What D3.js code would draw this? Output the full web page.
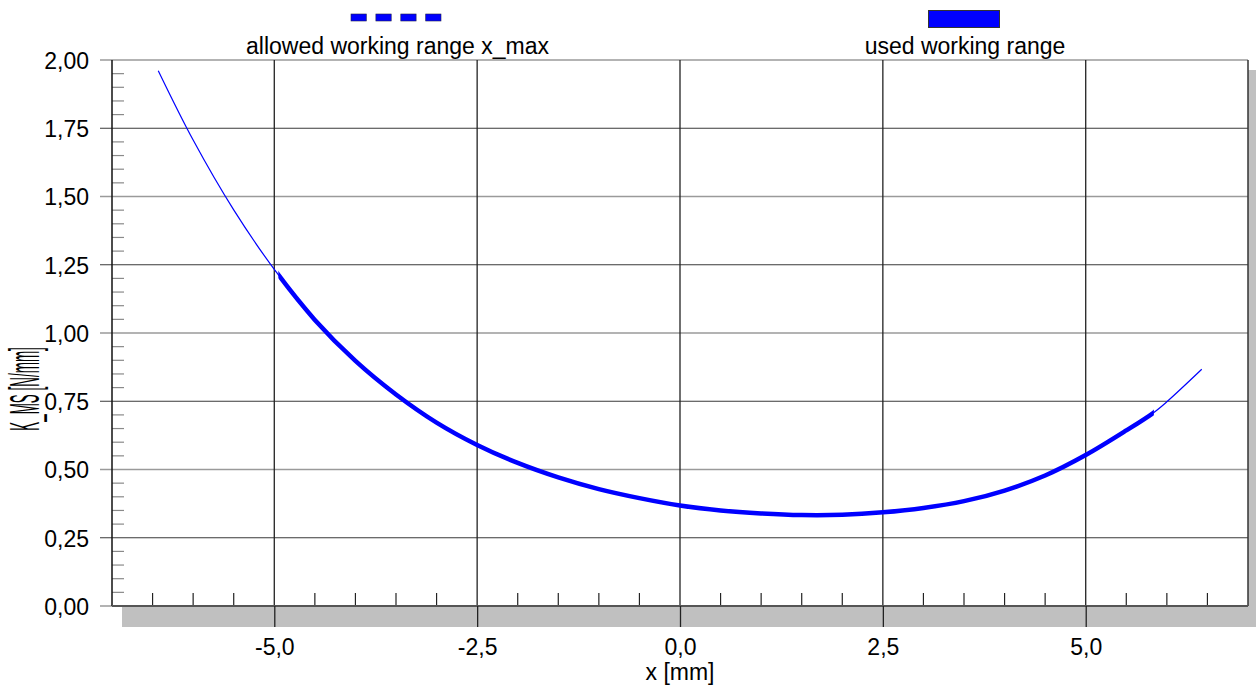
<!DOCTYPE html>
<html>
<head>
<meta charset="utf-8">
<script src="https://cdn.jsdelivr.net/npm/d3@7"></script>
<style>
  html, body { margin: 0; padding: 0; background: #fff; }
  svg { display: block; font-family: "Liberation Sans", Arial, sans-serif; }
</style>
</head>
<body>
<svg id="chart" width="1256" height="687"></svg>
<script>
// Spring stiffness K_MS over deflection x
const xValues = [-6.43, -6.0, -5.5, -5.0, -4.5, -4.0, -3.5, -3.0, -2.5, -2.0, -1.5, -1.0, -0.5, 0.0,
                 0.5, 1.0, 1.5, 2.0, 2.5, 3.0, 3.5, 4.0, 4.5, 5.0, 5.5, 5.84, 6.0, 6.43];
const kValues = [1.961, 1.707, 1.451, 1.233, 1.048, 0.898, 0.775, 0.672, 0.590, 0.524, 0.471, 0.428, 0.395, 0.368,
                 0.350, 0.339, 0.333, 0.334, 0.343, 0.359, 0.384, 0.423, 0.478, 0.553, 0.643, 0.709, 0.748, 0.867];

// Portion of the characteristic actually used
const usedRange = [-4.95, 5.84];

// Axis ticks and labels
const xMajorTicks = [-5, -2.5, 0, 2.5, 5];
const xTickLabels = ["-5,0", "-2,5", "0,0", "2,5", "5,0"];
const xMinorTicks = [-6.5, -6, -5.5, -4.5, -4, -3.5, -3, -2, -1.5, -1, -0.5,
                     0.5, 1, 1.5, 2, 3, 3.5, 4, 4.5, 5.5, 6, 6.5];
const yMajorTicks = [0, 0.25, 0.5, 0.75, 1.0, 1.25, 1.5, 1.75, 2.0];
const yTickLabels = ["0,00", "0,25", "0,50", "0,75", "1,00", "1,25", "1,50", "1,75", "2,00"];
const yMinorTicks = d3.range(0, 40).map(i => i * 0.05).filter(v => Math.round(v * 100) % 25 !== 0);

const legendLabels = ["allowed working range x_max", "used working range"];
const xTitle = "x [mm]";
const yTitle = "K_MS [N/mm]";

(function draw() {
  const svg = d3.select("#chart");
  const W = 1256, H = 687;
  const pL = 112, pR = 1248, pT = 60, pB = 606;

  const x = d3.scaleLinear().domain([-7, 7]).range([pL, pR]);
  const y = d3.scaleLinear().domain([0, 2]).range([pB, pT]);

  svg.append("rect").attr("width", W).attr("height", H).attr("fill", "#fff");

  // drop shadow behind the plot area
  svg.append("rect")
    .attr("x", pL + 10).attr("y", pT + 10)
    .attr("width", W - pL - 8).attr("height", pB - pT + 11)
    .attr("fill", "#c0c0c0");
  svg.append("rect")
    .attr("x", pL).attr("y", pT)
    .attr("width", pR - pL).attr("height", pB - pT)
    .attr("fill", "#fff");

  // horizontal grid: half steps lighter, quarter steps darker
  svg.append("g").selectAll("line").data(yMajorTicks).join("line")
    .attr("x1", pL - 12).attr("x2", pR)
    .attr("y1", d => y(d)).attr("y2", d => y(d))
    .attr("stroke", d => (Math.round(d * 4) % 2 === 0) ? "#9a9a9a" : "#3a3a3a")
    .attr("stroke-width", d => (Math.round(d * 4) % 2 === 0) ? 1.6 : 1.1);

  // vertical grid at the major x ticks
  svg.append("g").selectAll("line").data(xMajorTicks).join("line")
    .attr("x1", d => x(d)).attr("x2", d => x(d))
    .attr("y1", pT).attr("y2", pB)
    .attr("stroke", "#222").attr("stroke-width", 1.3);

  // minor ticks
  svg.append("g").selectAll("line").data(xMinorTicks).join("line")
    .attr("x1", d => x(d)).attr("x2", d => x(d))
    .attr("y1", pB - 13).attr("y2", pB)
    .attr("stroke", "#222").attr("stroke-width", 1.2);
  svg.append("g").selectAll("line").data(yMinorTicks).join("line")
    .attr("x1", pL).attr("x2", pL + 12)
    .attr("y1", d => y(d)).attr("y2", d => y(d))
    .attr("stroke", "#8a8a8a").attr("stroke-width", 1.2);

  // frame
  svg.append("line").attr("x1", pL).attr("x2", pL).attr("y1", pT).attr("y2", pB)
    .attr("stroke", "#111").attr("stroke-width", 1.5);
  svg.append("line").attr("x1", pR).attr("x2", pR).attr("y1", pT).attr("y2", pB)
    .attr("stroke", "#333").attr("stroke-width", 1.5);
  svg.append("line").attr("x1", pL).attr("x2", pR).attr("y1", pB).attr("y2", pB)
    .attr("stroke", "#555").attr("stroke-width", 2);

  // axes
  const xAxis = d3.axisBottom(x)
    .tickValues(xMajorTicks)
    .tickFormat((d, i) => xTickLabels[i])
    .tickSize(21).tickPadding(12);
  const gx = svg.append("g").attr("transform", `translate(0,${pB})`).call(xAxis);
  gx.select(".domain").remove();
  gx.selectAll(".tick line").attr("stroke", "#222").attr("stroke-width", 1.3);
  gx.selectAll(".tick text").attr("font-size", 23).attr("fill", "#000")
    .attr("font-family", "Liberation Sans, Arial, sans-serif");

  const yAxis = d3.axisLeft(y)
    .tickValues(yMajorTicks)
    .tickFormat((d, i) => yTickLabels[i])
    .tickSize(0).tickPadding(23);
  const gy = svg.append("g").attr("transform", `translate(${pL},0)`).call(yAxis);
  gy.select(".domain").remove();
  gy.selectAll(".tick text").attr("font-size", 23).attr("fill", "#000").attr("dy", "0.36em")
    .attr("font-family", "Liberation Sans, Arial, sans-serif");

  // axis titles
  svg.append("text").attr("x", x(0)).attr("y", 680)
    .attr("text-anchor", "middle").attr("font-size", 23).text(xTitle);
  svg.append("text")
    .attr("transform", "translate(39,389) rotate(-90) scale(0.32,1)")
    .attr("text-anchor", "middle").attr("font-size", 42).text(yTitle);

  // curve
  const line = d3.line()
    .x((d, i) => x(xValues[i]))
    .y(d => y(d))
    .curve(d3.curveCatmullRom.alpha(0.5));

  svg.append("clipPath").attr("id", "plotClip")
    .append("rect").attr("x", pL).attr("y", pT).attr("width", pR - pL).attr("height", pB - pT);
  svg.append("clipPath").attr("id", "usedClip")
    .append("rect")
    .attr("x", x(usedRange[0])).attr("y", pT)
    .attr("width", x(usedRange[1]) - x(usedRange[0])).attr("height", pB - pT);

  svg.append("path").datum(kValues)
    .attr("d", line)
    .attr("fill", "none").attr("stroke", "#0000ff").attr("stroke-width", 1.2)
    .attr("clip-path", "url(#plotClip)");
  svg.append("path").datum(kValues)
    .attr("d", line)
    .attr("fill", "none").attr("stroke", "#0000ff").attr("stroke-width", 4.5)
    .attr("clip-path", "url(#usedClip)");

  // legend
  const dashW = 15.3, dashGap = 9.6, dashX0 = 351;
  svg.append("g").selectAll("rect").data(d3.range(4)).join("rect")
    .attr("x", i => dashX0 + i * (dashW + dashGap)).attr("y", 14)
    .attr("width", dashW).attr("height", 7)
    .attr("fill", "#0000ff").attr("stroke", "#22224a").attr("stroke-width", 0.6);
  svg.append("text").attr("x", 397.5).attr("y", 54).attr("text-anchor", "middle")
    .attr("font-size", 23).text(legendLabels[0]);

  svg.append("rect").attr("x", 928.5).attr("y", 10.5).attr("width", 71).attr("height", 17)
    .attr("fill", "#0000ff").attr("stroke", "#333").attr("stroke-width", 1);
  svg.append("text").attr("x", 965).attr("y", 54).attr("text-anchor", "middle")
    .attr("font-size", 23).text(legendLabels[1]);
})();
</script>
</body>
</html>
